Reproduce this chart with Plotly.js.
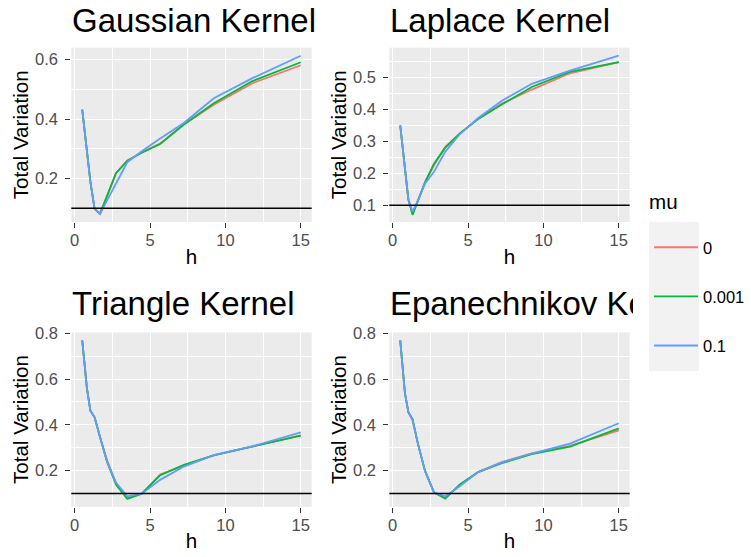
<!DOCTYPE html>
<html>
<head>
<meta charset="utf-8">
<script src="https://cdn.plot.ly/plotly-3.0.1.min.js"></script>
<style>
  html, body { margin: 0; padding: 0; background: #ffffff; }
  #chart { width: 751px; height: 557px; }
</style>
</head>
<body>
<div id="chart"></div>
<script>
// ---- data ----
const h = [0.5, 0.64, 0.81, 1.04, 1.32, 1.68, 2.15, 2.74, 3.49, 4.45, 5.67, 7.24, 9.23, 11.76, 15];
const muLabels = ['0', '0.001', '0.1'];
const kernelTitles = ['Gaussian Kernel', 'Laplace Kernel', 'Triangle Kernel', 'Epanechnikov Kernel'];
const legendTitle = 'mu';
const threshold = 0.1;

const gaussian_mu0    = [0.432, 0.367, 0.288, 0.19, 0.098, 0.082, 0.142, 0.218, 0.26, 0.288, 0.318, 0.382, 0.448, 0.52, 0.581];
const gaussian_mu001  = [0.432, 0.367, 0.288, 0.19, 0.098, 0.082, 0.142, 0.218, 0.26, 0.287, 0.316, 0.382, 0.453, 0.527, 0.591];
const gaussian_mu01   = [0.432, 0.367, 0.288, 0.19, 0.098, 0.081, 0.127, 0.183, 0.255, 0.292, 0.335, 0.387, 0.470, 0.537, 0.613];

const laplace_mu0     = [0.35, 0.29, 0.217, 0.118, 0.072, 0.115, 0.172, 0.225, 0.283, 0.325, 0.371, 0.418, 0.462, 0.513, 0.548];
const laplace_mu001   = [0.35, 0.29, 0.217, 0.118, 0.07, 0.115, 0.172, 0.23, 0.28, 0.324, 0.37, 0.415, 0.47, 0.517, 0.548];
const laplace_mu01    = [0.35, 0.29, 0.217, 0.118, 0.08, 0.115, 0.168, 0.205, 0.268, 0.322, 0.373, 0.427, 0.48, 0.521, 0.568];

const triangle_mu0    = [0.769, 0.675, 0.56, 0.462, 0.433, 0.347, 0.245, 0.145, 0.08, 0.1, 0.183, 0.222, 0.268, 0.305, 0.354];
const triangle_mu001  = [0.769, 0.675, 0.56, 0.462, 0.433, 0.347, 0.238, 0.14, 0.077, 0.1, 0.18, 0.225, 0.267, 0.305, 0.353];
const triangle_mu01   = [0.769, 0.675, 0.56, 0.462, 0.433, 0.347, 0.238, 0.148, 0.088, 0.1, 0.16, 0.218, 0.268, 0.306, 0.367];

const epan_mu0        = [0.769, 0.647, 0.54, 0.455, 0.42, 0.316, 0.198, 0.105, 0.082, 0.135, 0.194, 0.238, 0.276, 0.308, 0.376];
const epan_mu001      = [0.769, 0.647, 0.54, 0.455, 0.425, 0.316, 0.198, 0.105, 0.078, 0.14, 0.194, 0.233, 0.272, 0.305, 0.385];
const epan_mu01       = [0.769, 0.647, 0.54, 0.455, 0.42, 0.316, 0.198, 0.105, 0.088, 0.132, 0.194, 0.236, 0.275, 0.318, 0.407];

const panels = [
  [gaussian_mu0, gaussian_mu001, gaussian_mu01],
  [laplace_mu0, laplace_mu001, laplace_mu01],
  [triangle_mu0, triangle_mu001, triangle_mu01],
  [epan_mu0, epan_mu001, epan_mu01]
];

// ---- styling ----
const colors = ['#F8766D', '#00BA38', '#619CFF'];
const FONT = 'Liberation Sans, Arial, Helvetica, sans-serif';
const W = 751, H = 557;

const traces = [];
panels.forEach((series, p) => {
  const sfx = p === 0 ? '' : String(p + 1);
  series.forEach((vals, i) => {
    traces.push({
      type: 'scatter', mode: 'lines',
      x: h, y: vals,
      xaxis: 'x' + sfx, yaxis: 'y' + sfx,
      name: muLabels[i], legendgroup: 'mu' + i,
      showlegend: p === 0,
      line: { color: colors[i], width: 1.8 },
      hovertemplate: 'h=%{x}<br>TV=%{y}<extra>mu=' + muLabels[i] + '</extra>'
    });
  });
});

// pixel geometry helpers
const px = v => v / W;
const py = v => 1 - v / H;
const xDomL = [px(71.3), px(311.7)];
const xDomR = [px(389.3), px(629.7)];
const yDomT = [py(222), py(47.7)];
const yDomB = [py(506.8), py(332.4)];

function xAx(domain, anchor, standoff) {
  return {
    domain: domain, anchor: anchor, range: [-0.225, 15.725],
    tick0: 0, dtick: 5, ticks: 'outside', ticklen: 5, tickwidth: 1.1, tickcolor: '#333333',
    ticklabelstandoff: -2,
    tickfont: { family: FONT, size: 16.5, color: '#4D4D4D' },
    showgrid: true, gridcolor: '#FFFFFF', gridwidth: 1.4,
    minor: { dtick: 2.5, tick0: 0, showgrid: true, gridcolor: '#FFFFFF', gridwidth: 0.7, ticks: '' },
    zeroline: false, showline: false, fixedrange: true,
    title: { text: 'h', font: { family: FONT, size: 20.6, color: '#000000' }, standoff: standoff }
  };
}
function yAx(domain, anchor, range, dtick) {
  return {
    domain: domain, anchor: anchor, range: range,
    tick0: 0, dtick: dtick, ticks: 'outside', ticklen: 5, tickwidth: 1.1, tickcolor: '#333333',
    ticklabelstandoff: 4,
    tickfont: { family: FONT, size: 16.5, color: '#4D4D4D' },
    showgrid: true, gridcolor: '#FFFFFF', gridwidth: 1.4,
    minor: { dtick: dtick / 2, tick0: 0, showgrid: true, gridcolor: '#FFFFFF', gridwidth: 0.7, ticks: '' },
    zeroline: false, showline: false, fixedrange: true,
    title: { text: 'Total Variation', font: { family: FONT, size: 20.6, color: '#000000' }, standoff: 0 }
  };
}

const titlePos = [
  [px(71.3), py(20.4)], [px(389.3), py(20.4)],
  [px(71.3), py(303.7)], [px(389.3), py(303.7)]
];
const annotations = kernelTitles.map((t, i) => {
  const a = {
    text: t, xref: 'paper', yref: 'paper',
    x: titlePos[i][0], y: titlePos[i][1], xanchor: 'left', yanchor: 'middle',
    showarrow: false, borderpad: 0, align: 'left',
    font: { family: FONT, size: 33, color: '#000000' }
  };
  if (i === 3) { a.width = 243; }
  return a;
});
// legend title
annotations.push({
  text: legendTitle, xref: 'paper', yref: 'paper',
  x: px(648), y: py(201), xanchor: 'left', yanchor: 'middle',
  showarrow: false, borderpad: 0,
  font: { family: FONT, size: 20.6, color: '#000000' }
});

const shapes = [];
['', '2', '3', '4'].forEach(s => {
  shapes.push({
    type: 'line', xref: 'x' + s + ' domain', yref: 'y' + s,
    x0: 0, x1: 1, y0: threshold, y1: threshold,
    line: { color: '#000000', width: 1.5 }, layer: 'above'
  });
});
// legend key background
shapes.push({
  type: 'rect', xref: 'paper', yref: 'paper',
  x0: px(649), x1: px(699), y0: py(371), y1: py(222),
  fillcolor: '#F2F2F2', line: { width: 0 }, layer: 'below'
});

const layout = {
  width: W, height: H,
  margin: { l: 0, r: 0, t: 0, b: 0 },
  paper_bgcolor: '#FFFFFF', plot_bgcolor: '#EBEBEB',
  font: { family: FONT, color: '#000000' },
  showlegend: true,
  legend: {
    x: px(649), xanchor: 'left', y: py(230), yanchor: 'top',
    bgcolor: 'rgba(0,0,0,0)', borderwidth: 0,
    font: { family: FONT, size: 16.5, color: '#000000' },
    traceorder: 'grouped', tracegroupgap: 24.7, itemwidth: 44
  },
  xaxis: xAx(xDomL, 'y', 1),
  yaxis: yAx(yDomT, 'x', [0.054, 0.64], 0.2),
  xaxis2: xAx(xDomR, 'y2', 1),
  yaxis2: yAx(yDomT, 'x2', [0.0475, 0.593], 0.1),
  xaxis3: xAx(xDomL, 'y3', 0),
  yaxis3: yAx(yDomB, 'x3', [0.0424, 0.8036], 0.2),
  xaxis4: xAx(xDomR, 'y4', 0),
  yaxis4: yAx(yDomB, 'x4', [0.0424, 0.8036], 0.2),
  annotations: annotations,
  shapes: shapes
};

Plotly.newPlot('chart', traces, layout, { displayModeBar: false });
</script>
</body>
</html>
